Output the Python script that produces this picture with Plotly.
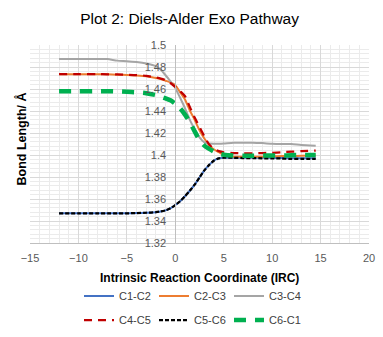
import plotly.graph_objects as go

irc = [-12, -10, -8, -7, -6, -5, -4, -3, -2, -1.5, -1, -0.5, 0, 0.5, 1, 1.5, 2, 2.5,
       3, 3.5, 4, 4.5, 5, 6, 7, 8, 9, 10, 11, 12, 13, 14.5]

c1_c2 = [1.347, 1.347, 1.347, 1.347, 1.347, 1.347, 1.3472, 1.3475, 1.348, 1.3487, 1.3497,
         1.3515, 1.3545, 1.358, 1.3625, 1.3675, 1.373, 1.3795, 1.386, 1.391, 1.395, 1.397,
         1.3975, 1.3975, 1.3975, 1.3975, 1.3975, 1.3973, 1.3972, 1.397, 1.397, 1.397]
c2_c3 = [1.4735, 1.4735, 1.4735, 1.4733, 1.473, 1.4727, 1.4722, 1.4715, 1.470, 1.469, 1.4675,
         1.466, 1.4635, 1.457, 1.4505, 1.4405, 1.432, 1.4225, 1.415, 1.409, 1.405, 1.4025,
         1.400, 1.3985, 1.3985, 1.3985, 1.3985, 1.3988, 1.399, 1.399, 1.3993, 1.3995]
c3_c4 = [1.4873, 1.4873, 1.4873, 1.4872, 1.4858, 1.4853, 1.4845, 1.4832, 1.4808, 1.4775, 1.4725,
         1.467, 1.461, 1.452, 1.4425, 1.432, 1.4235, 1.416, 1.4115, 1.4105, 1.4103, 1.4103,
         1.4105, 1.4112, 1.4112, 1.4112, 1.4108, 1.4102, 1.410, 1.410, 1.4092, 1.4085]
c4_c5 = [1.4735, 1.4735, 1.4735, 1.4734, 1.4732, 1.473, 1.4727, 1.472, 1.4705, 1.4695, 1.468,
         1.4655, 1.462, 1.458, 1.4535, 1.4437, 1.434, 1.4255, 1.417, 1.4095, 1.4055, 1.4035,
         1.4025, 1.4018, 1.4015, 1.4015, 1.4018, 1.402, 1.4025, 1.403, 1.4035, 1.404]
c5_c6 = [1.347, 1.347, 1.347, 1.347, 1.347, 1.347, 1.3472, 1.3475, 1.348, 1.3487, 1.3497,
         1.3515, 1.3545, 1.358, 1.3625, 1.3675, 1.373, 1.3795, 1.386, 1.391, 1.395, 1.397,
         1.3975, 1.3975, 1.3972, 1.3972, 1.397, 1.397, 1.3968, 1.3965, 1.3965, 1.3965]
c6_c1 = [1.458, 1.458, 1.458, 1.458, 1.4578, 1.4575, 1.457, 1.4562, 1.4545, 1.453, 1.4515,
         1.4497, 1.4465, 1.4425, 1.4367, 1.430, 1.4215, 1.4135, 1.4085, 1.4055, 1.403, 1.4013,
         1.4003, 1.3995, 1.3993, 1.3993, 1.3995, 1.3995, 1.3995, 1.3998, 1.400, 1.400]

names = ["C1-C2", "C2-C3", "C3-C4", "C4-C5", "C5-C6", "C6-C1"]
series = [c1_c2, c2_c3, c3_c4, c4_c5, c5_c6, c6_c1]
colors = ["#4472C4", "#ED7D31", "#A5A5A5", "#C00000", "#000000", "#00B050"]
widths = [2, 2, 2, 2.25, 2.25, 4.5]
dashes = ["solid", "solid", "solid", "8px,6px", "4px,2px", "12px,9px"]
legends = ["legend", "legend", "legend", "legend2", "legend2", "legend2"]

y_ticks = [1.32, 1.34, 1.36, 1.38, 1.40, 1.42, 1.44, 1.46, 1.48, 1.50]
y_ticktext = ["1.32", "1.34", "1.36", "1.38", "1.4", "1.42", "1.44", "1.46", "1.48", "1.5"]
x_ticks = [-15, -10, -5, 0, 5, 10, 15, 20]

FONT = "Liberation Sans"
H = 337

fig = go.Figure()
for name, ys, col, w, d, lg in zip(names, series, colors, widths, dashes, legends):
    fig.add_trace(go.Scatter(
        x=irc, y=ys, mode="lines", name=name, legend=lg,
        line=dict(color=col, width=w, dash=d, shape="spline", smoothing=0.6),
    ))

leg_common = dict(orientation="h", xref="container", x=79 / 383, xanchor="left",
                  yref="container", yanchor="middle", entrywidth=30, entrywidthmode="pixels",
                  font=dict(family=FONT, size=11, color="#404040"), bgcolor="rgba(0,0,0,0)")

fig.update_layout(
    width=383, height=H,
    margin=dict(l=29.5, r=14, t=45, b=94, autoexpand=False),
    paper_bgcolor="white", plot_bgcolor="white",
    font=dict(family=FONT, size=11, color="#595959"),
    title=dict(text="Plot 2: Diels-Alder Exo Pathway", x=0.495, xanchor="center",
               y=1 - 19 / H, yref="container", yanchor="middle",
               font=dict(family=FONT, size=15.5, color="#000000")),
    xaxis=dict(
        range=[-15, 20], tickvals=x_ticks, showgrid=True, gridcolor="#d9d9d9", gridwidth=1,
        zeroline=False, showline=True, linecolor="#bfbfbf", linewidth=1, ticks="",
        ticklabelstandoff=5, tickfont=dict(size=11, color="#595959"),
        minor=dict(dtick=1, showgrid=True, gridcolor="#ebebeb", gridwidth=1),
        domain=[0, 1], fixedrange=True,
    ),
    yaxis=dict(
        range=[1.32, 1.5], tickvals=y_ticks, ticktext=y_ticktext, showgrid=True,
        gridcolor="#d9d9d9", gridwidth=1, zeroline=False, showline=True,
        linecolor="#bfbfbf", linewidth=1, ticks="", anchor="free", position=15 / 35,
        ticklabelstandoff=7, tickfont=dict(size=11, color="#595959"),
        minor=dict(dtick=0.004, tick0=1.32, showgrid=True, gridcolor="#ebebeb", gridwidth=1),
        fixedrange=True,
    ),
    legend=dict(y=1 - 296 / H, **leg_common),
    legend2=dict(y=1 - 320 / H, **leg_common),
    showlegend=True,
    annotations=[
        dict(text="<b>Bond Length/ Å</b>", textangle=-90, xref="paper", yref="paper",
             x=(20 - 29.5) / 340, y=(243 - 139) / 198, xanchor="center", yanchor="middle",
             showarrow=False, font=dict(family=FONT, size=12.5, color="#000000")),
        dict(text="<b>Intrinsic Reaction Coordinate (IRC)</b>", xref="paper", yref="paper",
             x=(199 - 29.5) / 340, y=(243 - 278) / 198, xanchor="center", yanchor="middle",
             showarrow=False, font=dict(family=FONT, size=12, color="#000000")),
    ],
)

fig.write_html("out.html")
